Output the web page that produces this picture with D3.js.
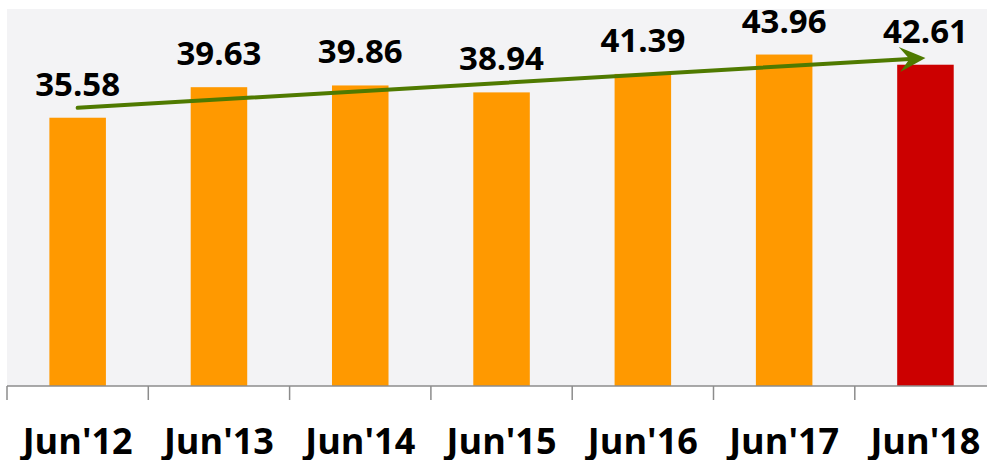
<!DOCTYPE html>
<html>
<head>
<meta charset="utf-8">
<script src="https://cdn.jsdelivr.net/npm/d3@7"></script>
<style>
  body { margin: 0; background: #fff; }
  text { font-family: "Open Sans", "Liberation Sans", sans-serif; font-weight: bold; fill: #000; }
</style>
</head>
<body>
<div id="chart"></div>
<script>
var categories = ["Jun'12", "Jun'13", "Jun'14", "Jun'15", "Jun'16", "Jun'17", "Jun'18"];
var values = [35.58, 39.63, 39.86, 38.94, 41.39, 43.96, 42.61];
var barColors = ["#ff9900", "#ff9900", "#ff9900", "#ff9900", "#ff9900", "#ff9900", "#cc0000"];
// trend arrow, start and end value
var trendValues = [36.9, 43.5];

var width = 987, height = 460;
var plotLeft = 7, plotTop = 9, plotBottom = 386;
var step = 141.3;

var svg = d3.select("#chart")
    .append("svg")
    .attr("width", width)
    .attr("height", height);

var x = d3.scaleBand()
    .domain(categories)
    .range([plotLeft, plotLeft + step * categories.length])
    .paddingInner(0.6)
    .paddingOuter(0.3);

var y = d3.scaleLinear()
    .domain([0, 50])
    .range([plotBottom, plotTop]);

// plot background
svg.append("rect")
    .attr("x", plotLeft)
    .attr("y", plotTop)
    .attr("width", width - plotLeft)
    .attr("height", plotBottom - plotTop)
    .attr("fill", "#f3f3f5");

svg.selectAll("rect.bar")
    .data(values)
    .enter().append("rect")
    .attr("class", "bar")
    .attr("x", function (d, i) { return x(categories[i]); })
    .attr("y", function (d) { return y(d); })
    .attr("width", x.bandwidth())
    .attr("height", function (d) { return y(0) - y(d); })
    .attr("fill", function (d, i) { return barColors[i]; });

svg.selectAll("text.value")
    .data(values)
    .enter().append("text")
    .attr("class", "value")
    .attr("x", function (d, i) { return x(categories[i]) + x.bandwidth() / 2; })
    .attr("y", function (d) { return y(d) - 22; })
    .attr("text-anchor", "middle")
    .style("font-size", "33px")
    .text(function (d) { return d.toFixed(2); });

// x axis: line, ticks on band edges, labels
svg.append("line")
    .attr("x1", plotLeft)
    .attr("x2", width)
    .attr("y1", plotBottom)
    .attr("y2", plotBottom)
    .attr("stroke", "#8c8c8c")
    .attr("stroke-width", 1.5);

var tickXs = d3.range(categories.length + 1).map(function (i) { return x.range()[0] + i * x.step(); });
svg.selectAll("line.tick")
    .data(tickXs)
    .enter().append("line")
    .attr("class", "tick")
    .attr("x1", function (d) { return d; })
    .attr("x2", function (d) { return d; })
    .attr("y1", plotBottom)
    .attr("y2", plotBottom + 14)
    .attr("stroke", "#8c8c8c")
    .attr("stroke-width", 1.5);

svg.selectAll("text.cat")
    .data(categories)
    .enter().append("text")
    .attr("class", "cat")
    .attr("x", function (d) { return x(d) + x.bandwidth() / 2; })
    .attr("y", 454)
    .attr("text-anchor", "middle")
    .style("font-size", "36px")
    .text(function (d) { return d; });

// trend arrow from first to last bar
var x0 = x(categories[0]) + x.bandwidth() / 2;
var x1 = x(categories[categories.length - 1]) + x.bandwidth() / 2;
var y0 = y(trendValues[0]), y1 = y(trendValues[1]);
var angle = Math.atan2(y1 - y0, x1 - x0) * 180 / Math.PI;
var headLen = 26;

svg.append("line")
    .attr("x1", x0)
    .attr("y1", y0)
    .attr("x2", x1 - headLen * 0.6 * Math.cos(angle * Math.PI / 180))
    .attr("y2", y1 - headLen * 0.6 * Math.sin(angle * Math.PI / 180))
    .attr("stroke", "#4f7a00")
    .attr("stroke-width", 4)
    .attr("stroke-linecap", "round");

svg.append("path")
    .attr("d", "M0,0 L-26,-12.5 L-16,0 L-26,12.5 Z")
    .attr("transform", "translate(" + x1 + "," + y1 + ") rotate(" + angle + ")")
    .attr("fill", "#4f7a00");
</script>
</body>
</html>
